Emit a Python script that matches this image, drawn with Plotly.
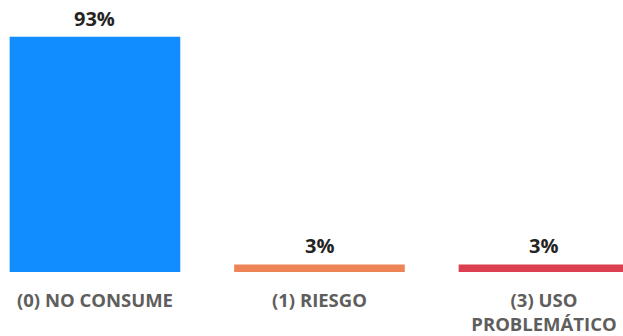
import plotly.graph_objects as go

categories = ["(0) NO CONSUME", "(1) RIESGO", "(3) USO<br>PROBLEMÁTICO"]
values = [93, 3, 3]
value_labels = ["93%", "3%", "3%"]
colors = ["#118DFF", "#EE8356", "#DC3F50"]

fig = go.Figure()
fig.add_trace(go.Bar(
    x=categories, y=values, marker=dict(color=colors, line=dict(width=0)),
    width=0.76, hoverinfo="skip",
))
for c, v, t in zip(categories, values, value_labels):
    fig.add_annotation(x=c, y=v, text="<b>%s</b>" % t, showarrow=False,
                       yanchor="bottom", yshift=3,
                       font=dict(family="Open Sans", size=20, color="#252423"))

fig.update_layout(
    width=623, height=336,
    margin=dict(l=0, r=0, t=0, b=62),
    paper_bgcolor="white", plot_bgcolor="white",
    showlegend=False,
    xaxis=dict(range=[-0.423, 2.352], showgrid=False, zeroline=False,
               showline=False, ticks="", ticklabelstandoff=15,
               tickfont=dict(family="Open Sans", size=18.5, color="#605E5C", weight="bold")),
    yaxis=dict(range=[0, 107.5], visible=False),
)
fig.write_html("out.html", config={"displayModeBar": False},
               post_script="document.body.style.margin='0';")
